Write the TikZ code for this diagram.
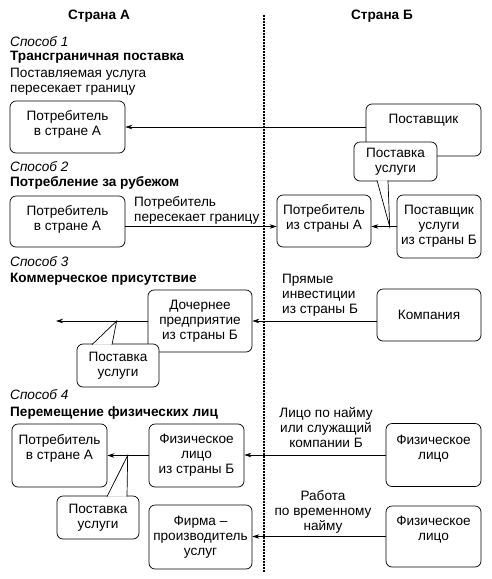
\documentclass[tikz,border=0pt]{standalone}
\usepackage{fontspec}
\setmainfont{Liberation Sans}
\usetikzlibrary{arrows.meta}

\begin{document}
\begin{tikzpicture}[x=1pt,y=-1pt,
    every node/.style={font=\fontsize{13.6}{15}\selectfont},
    box/.style={draw,line width=0.7pt,rounded corners=6pt,align=center,inner sep=0pt,fill=white},
    arr/.style={line width=0.7pt,-{Stealth[length=7pt,width=4.5pt]}},
    head/.style={font=\fontsize{13.6}{15}\selectfont\bfseries},
    way/.style={anchor=west,inner sep=0pt,font=\fontsize{13.6}{15}\selectfont\itshape},
    title/.style={anchor=west,inner sep=0pt,font=\fontsize{13.6}{15}\selectfont\bfseries}]
    \useasboundingbox (0,0) rectangle (491,579);

    % Border between the countries
    \draw[line width=1.5pt,dash pattern=on 1.5pt off 1.5pt] (264,15) -- (264,572);
    \node[head] (hA) at (99,16) {Страна А};
    \node[head] (hB) at (382,16) {Страна Б};

    % Mode 1
    \node[way] (m1) at (10,42) {Способ 1};
    \node[title] (t1) at (10,57) {Трансграничная поставка};
    \node[anchor=west,align=left,inner sep=0pt] (d1) at (10,81.5) {Поставляемая услуга\\пересекает границу};
    \node[box,minimum width=115pt,minimum height=52pt,text depth=7pt] (consA1) at (67.5,127) {Потребитель\\в стране А};
    \node[box,minimum width=115pt,minimum height=52pt,text depth=22pt] (sup1) at (423.5,130) {Поставщик};
    \draw[arr] (consA1.east -| sup1.west) -- (consA1.east);
    \node[box,minimum width=83pt,minimum height=39pt] (c1) at (395.5,161.5) {Поставка\\услуги};

    % Mode 2
    \node[way] (m2) at (10,167) {Способ 2};
    \node[title] (t2) at (10,183) {Потребление за рубежом};
    \node[box,minimum width=115pt,minimum height=51pt,text depth=7pt] (consA2) at (67.5,221.5) {Потребитель\\в стране А};
    \node[anchor=west,align=left,inner sep=0pt] (d2) at (134,210.5) {Потребитель\\пересекает границу};
    \node[box,minimum width=94pt,minimum height=52pt,text depth=7pt] (consB2) at (324,221) {Потребитель\\из страны А};
    \node[box,minimum width=84pt,minimum height=63pt] (prov2) at (439,226.5) {Поставщик\\услуги\\из страны Б};
    \draw[arr] (consA2.east |- prov2.west) -- (consB2.west |- prov2.west);
    \draw[arr] (prov2.west) -- (prov2.west -| consB2.east);
    \coordinate (tip1) at ([xshift=-7pt]prov2.west);
    \draw[line width=0.7pt,fill=white] ([xshift=-18.5pt,yshift=1pt]c1.south) -- (tip1) -- ([xshift=-7.5pt,yshift=1pt]c1.south);

    % Mode 3
    \node[way] (m3) at (10,262) {Способ 3};
    \node[title] (t3) at (10,279) {Коммерческое присутствие};
    \node[anchor=west,align=left,inner sep=0pt] (d3) at (282,295) {Прямые\\инвестиции\\из страны Б};
    \node[box,minimum width=104pt,minimum height=52pt] (comp) at (429,315) {Компания};
    \node[box,minimum width=104pt,minimum height=62pt] (sub3) at (200,321) {Дочернее\\предприятие\\из страны Б};
    \coordinate (out3) at (56,321);
    \draw[arr] (comp.west |- sub3.east) -- (sub3.east);
    \draw[arr] (sub3.west) -- (out3);
    \node[box,minimum width=82pt,minimum height=43pt] (c2) at (118,365.5) {Поставка\\услуги};
    \coordinate (tip2) at ([xshift=-31pt]sub3.west);
    \draw[line width=0.7pt,fill=white] ([xshift=-26pt,yshift=-1pt]c2.north) -- (tip2) -- ([xshift=-6pt,yshift=-1pt]c2.north);

    % Mode 4
    \node[way] (m4) at (10,395) {Способ 4};
    \node[title] (t4) at (10,413) {Перемещение физических лиц};
    \node[box,minimum width=95pt,minimum height=63pt,text depth=16pt] (consA4) at (59.5,455.5) {Потребитель\\в стране А};
    \node[box,minimum width=95pt,minimum height=63pt] (phys4) at (196.5,455.5) {Физическое\\лицо\\из страны Б};
    \node[box,minimum width=95pt,minimum height=63pt,text depth=16pt] (indiv1) at (433.5,455) {Физическое\\лицо};
    \node[align=center] (d4) at (326,428) {Лицо по найму\\или служащий\\компании Б};
    \draw[arr] (indiv1.west) -- (indiv1.west -| phys4.east);
    \draw[arr] (phys4.west) -- (phys4.west -| consA4.east);
    \node[box,minimum width=82pt,minimum height=43pt] (c3) at (98,517.5) {Поставка\\услуги};
    \coordinate (tip3) at ([xshift=-21pt]phys4.west);
    \draw[line width=0.7pt,fill=white] ([xshift=9pt,yshift=-1pt]c3.north) -- (tip3) -- ([xshift=29pt,yshift=-1pt]c3.north);

    \node[box,minimum width=103pt,minimum height=64pt] (firm) at (200.5,537) {Фирма --\\производитель\\услуг};
    \node[box,minimum width=95pt,minimum height=61pt,text depth=16pt] (indiv2) at (433.5,536.5) {Физическое\\лицо};
    \node[align=center] (d5) at (323,512) {Работа\\по временному\\найму};
    \draw[arr] (indiv2.west) -- (indiv2.west -| firm.east);
\end{tikzpicture}
\end{document}
